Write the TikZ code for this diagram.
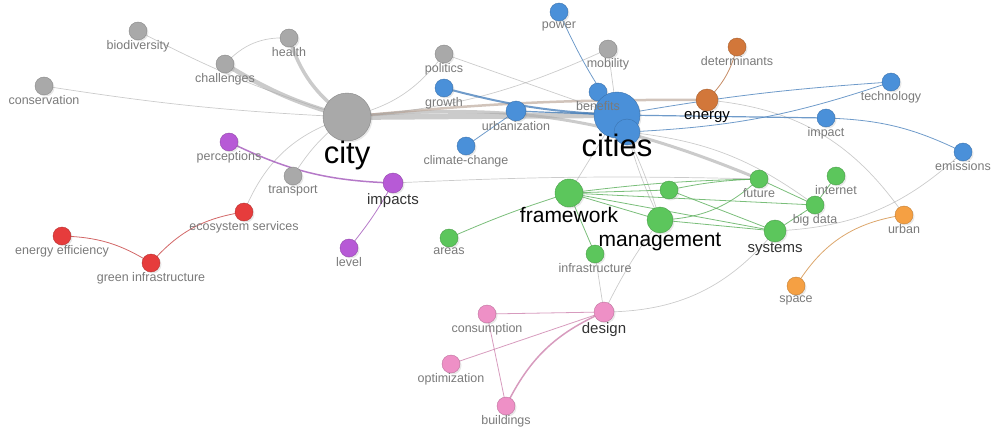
\documentclass[tikz,border=0pt]{standalone}
\usepackage{fontspec}
\setmainfont{Liberation Sans}
\usetikzlibrary{positioning,backgrounds,shadows}

\definecolor{kgray}{HTML}{A9A9A9}
\definecolor{kblue}{HTML}{4A90D9}
\definecolor{kbrown}{HTML}{D2773A}
\definecolor{kpurple}{HTML}{B75AD6}
\definecolor{kred}{HTML}{E63C3C}
\definecolor{kgreen}{HTML}{5CC65C}
\definecolor{korange}{HTML}{F5A043}
\definecolor{kpink}{HTML}{EE90C6}
\definecolor{klabel}{HTML}{7A7A7A}

\begin{document}
\begin{tikzpicture}[
  x=1pt, y=-1pt,
  kw/.style={circle, draw=#1!80!black, fill=#1, inner sep=0pt, minimum size=18pt,
    drop shadow={opacity=0.18, shadow xshift=1.5pt, shadow yshift=-1.5pt}},
  kw/.default=kgray,
  lbl/.style={font=\fontsize{12.5}{14}\selectfont, text=klabel, inner sep=0pt},
  sub/.style={lbl, font=\fontsize{15}{17}\selectfont, text=black!80},
  mid/.style={lbl, font=\fontsize{21}{23}\selectfont, text=black},
  hub/.style={lbl, font=\fontsize{31}{34}\selectfont, text=black},
  link/.style={draw=#1, line width=0.7pt, draw opacity=0.6},
  link/.default=kgray,
  clink/.style={draw=#1!85!black, line width=0.8pt, draw opacity=0.75}
]
\useasboundingbox (0,0) rectangle (997,428);

% grey cluster
\node[kw, minimum size=48pt] (city) at (347,117) {};
\node[kw] (biodiv) at (138,31) {};
\node[kw] (health) at (289,38) {};
\node[kw] (challenges) at (225,64) {};
\node[kw] (conserv) at (44,86) {};
\node[kw] (politics) at (444,54) {};
\node[kw] (mobility) at (608,49) {};
\node[kw] (transport) at (293,176) {};

% blue cluster
\node[kw=kblue] (power) at (559,12) {};
\node[kw=kblue] (growth) at (444,88) {};
\node[kw=kblue, minimum size=20pt] (urbaniz) at (516,111) {};
\node[kw=kblue] (climate) at (466,146) {};
\node[kw=kblue] (benefits) at (598,92) {};
\node[kw=kblue, minimum size=46pt] (cities) at (617,115) {};
\node[kw=kblue, minimum size=26pt] (cityb) at (627,132) {};
\node[kw=kblue] (techno) at (891,82) {};
\node[kw=kblue] (impact) at (826,118) {};
\node[kw=kblue] (emissions) at (963,152) {};

% brown cluster
\node[kw=kbrown] (determ) at (737,47) {};
\node[kw=kbrown, minimum size=22pt] (energy) at (707,100) {};

% purple cluster
\node[kw=kpurple] (percep) at (229,142) {};
\node[kw=kpurple, minimum size=20pt] (impacts) at (393,183) {};
\node[kw=kpurple] (level) at (349,248) {};

% red cluster
\node[kw=kred] (ecosys) at (244,212) {};
\node[kw=kred] (eneff) at (62,236) {};
\node[kw=kred] (greeninf) at (151,263) {};

% green cluster
\node[kw=kgreen, minimum size=28pt] (framework) at (569,193) {};
\node[kw=kgreen] (green2) at (669,190) {};
\node[kw=kgreen, minimum size=26pt] (management) at (660,220) {};
\node[kw=kgreen] (future) at (759,179) {};
\node[kw=kgreen] (internet) at (836,176) {};
\node[kw=kgreen] (bigdata) at (815,205) {};
\node[kw=kgreen, minimum size=22pt] (systems) at (775,231) {};
\node[kw=kgreen] (areas) at (449,238) {};
\node[kw=kgreen] (infra) at (595,254) {};

% orange cluster
\node[kw=korange] (urban) at (904,215) {};
\node[kw=korange] (space) at (796,286) {};

% pink cluster
\node[kw=kpink, minimum size=20pt] (design) at (604,312) {};
\node[kw=kpink] (consum) at (487,314) {};
\node[kw=kpink] (optim) at (451,364) {};
\node[kw=kpink] (buildings) at (506,406) {};

% links
\begin{scope}[on background layer]
\draw[link, line width=6pt] (city.center) -- (cities.center);
\draw[link, line width=4.5pt] (challenges.center) to[bend right=8] (city.center);
\draw[link, line width=3.5pt] (health.center) to[bend right=18] (city.center);
\draw[link, line width=3pt] (city.center) to[bend left=14] (future.center);
\draw[link=kbrown!25!kgray, line width=2.5pt] (city.center) to[bend left=3] (energy.center);
\draw[link] (biodiv.center) to[bend right=5] (city.center);
\draw[link] (challenges.center) to[bend left=25] (health.center);
\draw[link] (conserv.center) to[bend right=3] (city.center);
\draw[link] (city.center) to[bend right=20] (politics.center);
\draw[link] (city.center) to[bend right=25] (ecosys.center);
\draw[link] (city.center) to[bend right=10] (transport.center);
\draw[link] (city.center) to[bend right=10] (mobility.center);
\draw[link] (politics.center) -- (cities.center);
\draw[link] (mobility.center) -- (cities.center);
\draw[link] (impacts.center) to[bend left=2] (future.center);
\draw[link] (cities.center) -- (framework.center);
\draw[link] (cities.center) to[bend left=5] (management.center);
\draw[link] (cityb.center) to[bend right=5] (management.center);
\draw[link] (cityb.center) to[bend left=15] (bigdata.center);
\draw[link] (energy.center) to[bend left=25] (urban.center);
\draw[link] (systems.center) to[bend right=20] (emissions.center);
\draw[link] (design.center) to[bend right=25] (systems.center);
\draw[link] (design.center) to[bend left=5] (management.center);
\draw[link] (design.center) -- (infra.center);
% blue
\draw[clink=kblue, line width=2pt] (growth.center) to[bend right=6] (cities.center);
\draw[clink=kblue] (power.center) to[bend right=5] (cities.center);
\draw[clink=kblue] (urbaniz.center) -- (climate.center);
\draw[clink=kblue, line width=1.2pt] (urbaniz.center) -- (cities.center);
\draw[clink=kblue] (benefits.center) -- (cities.center);
\draw[clink=kblue] (cities.center) to[bend left=3] (techno.center);
\draw[clink=kblue] (cityb.center) to[bend right=8] (techno.center);
\draw[clink=kblue, line width=1.2pt] (cities.center) -- (impact.center);
\draw[clink=kblue] (impact.center) to[bend left=12] (emissions.center);
% brown, purple, red
\draw[clink=kbrown] (determ.center) to[bend left=15] (energy.center);
\draw[clink=kpurple, line width=1.5pt] (percep.center) to[bend right=12] (impacts.center);
\draw[clink=kpurple] (impacts.center) to[bend left=5] (level.center);
\draw[clink=kred] (eneff.center) to[bend left=15] (greeninf.center);
\draw[clink=kred] (greeninf.center) to[bend left=20] (ecosys.center);
% green
\draw[clink=kgreen] (framework.center) -- (management.center);
\draw[clink=kgreen] (framework.center) to[bend left=3] (future.center);
\draw[clink=kgreen] (framework.center) -- (bigdata.center);
\draw[clink=kgreen] (framework.center) -- (systems.center);
\draw[clink=kgreen] (areas.center) to[bend left=3] (framework.center);
\draw[clink=kgreen] (framework.center) -- (infra.center);
\draw[clink=kgreen] (framework.center) -- (green2.center);
\draw[clink=kgreen] (green2.center) -- (systems.center);
\draw[clink=kgreen] (green2.center) to[bend left=5] (future.center);
\draw[clink=kgreen] (management.center) to[bend right=20] (future.center);
\draw[clink=kgreen] (management.center) -- (systems.center);
\draw[clink=kgreen] (future.center) -- (bigdata.center);
\draw[clink=kgreen] (internet.center) -- (bigdata.center);
\draw[clink=kgreen] (bigdata.center) -- (systems.center);
% orange, pink
\draw[clink=korange] (urban.center) to[bend right=25] (space.center);
\draw[clink=kpink] (design.center) -- (consum.center);
\draw[clink=kpink] (design.center) -- (optim.center);
\draw[clink=kpink, line width=1.5pt] (design.center) to[bend right=20] (buildings.center);
\draw[clink=kpink] (consum.center) -- (buildings.center);
\end{scope}

% labels
\node[hub, below=0pt of city] (city-l) {city};
\node[hub, below=-4pt of cities] (cities-l) {cities};
\node[mid, below=0pt of framework] (framework-l) {framework};
\node[mid, below=0pt of management] (management-l) {management};
\node[sub, below=0pt of energy, text=black] (energy-l) {energy};
\node[sub, below=0pt of systems] (systems-l) {systems};
\node[sub, below=0pt of impacts] (impacts-l) {impacts};
\node[sub, below=0pt of design] (design-l) {design};
\node[lbl, below=0pt of biodiv] (biodiv-l) {biodiversity};
\node[lbl, below=0pt of health] (health-l) {health};
\node[lbl, below=0pt of challenges] (challenges-l) {challenges};
\node[lbl, below=0pt of conserv] (conserv-l) {conservation};
\node[lbl, below=0pt of politics] (politics-l) {politics};
\node[lbl, below=0pt of mobility] (mobility-l) {mobility};
\node[lbl, below=0pt of transport] (transport-l) {transport};
\node[lbl, below=0pt of power] (power-l) {power};
\node[lbl, below=0pt of growth] (growth-l) {growth};
\node[lbl, below=0pt of urbaniz] (urbaniz-l) {urbanization};
\node[lbl, below=0pt of climate] (climate-l) {climate-change};
\node[lbl, below=0pt of benefits] (benefits-l) {benefits};
\node[lbl, below=0pt of techno] (techno-l) {technology};
\node[lbl, below=0pt of impact] (impact-l) {impact};
\node[lbl, below=0pt of emissions] (emissions-l) {emissions};
\node[lbl, below=0pt of determ] (determ-l) {determinants};
\node[lbl, below=0pt of percep] (percep-l) {perceptions};
\node[lbl, below=0pt of level] (level-l) {level};
\node[lbl, below=0pt of ecosys] (ecosys-l) {ecosystem services};
\node[lbl, below=0pt of eneff] (eneff-l) {energy efficiency};
\node[lbl, below=0pt of greeninf] (greeninf-l) {green infrastructure};
\node[lbl, below=0pt of future] (future-l) {future};
\node[lbl, below=0pt of internet] (internet-l) {internet};
\node[lbl, below=0pt of bigdata] (bigdata-l) {big data};
\node[lbl, below=0pt of areas] (areas-l) {areas};
\node[lbl, below=0pt of infra] (infra-l) {infrastructure};
\node[lbl, below=0pt of urban] (urban-l) {urban};
\node[lbl, below=0pt of space] (space-l) {space};
\node[lbl, below=0pt of consum] (consum-l) {consumption};
\node[lbl, below=0pt of optim] (optim-l) {optimization};
\node[lbl, below=0pt of buildings] (buildings-l) {buildings};

\end{tikzpicture}
\end{document}
